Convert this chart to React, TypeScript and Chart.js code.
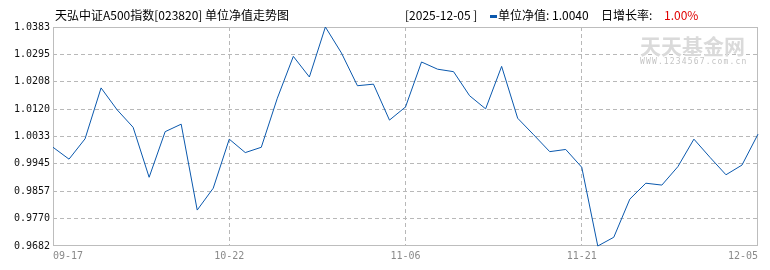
import React, { useEffect, useRef } from "react";
import { Chart, registerables } from "chart.js";

Chart.register(...registerables);

const DATES: string[] = [
  "09-17", "09-19", "09-24", "09-26", "09-30", "10-10", "10-13", "10-15", "10-17", "10-20", "10-21", "10-22",
  "10-23", "10-24", "10-27", "10-28", "10-29", "10-30", "10-31", "11-03", "11-04", "11-05", "11-06",
  "11-07", "11-10", "11-11", "11-12", "11-13", "11-14", "11-17", "11-18", "11-19", "11-20", "11-21",
  "11-22", "11-24", "11-25", "11-26", "11-27", "11-28", "12-01", "12-02", "12-03", "12-04", "12-05",
];

const NAV: number[] = [
  0.9998, 0.9960, 1.0025, 1.0188, 1.0118, 1.0062, 0.9902, 1.0048, 1.0072, 0.9797, 0.9867, 1.0024,
  0.9981, 0.9998, 1.0155, 1.0289, 1.0223, 1.0383, 1.0300, 1.0195, 1.0200, 1.0085, 1.0127,
  1.0271, 1.0248, 1.0240, 1.0163, 1.0121, 1.0257, 1.0091, 1.0038, 0.9984, 0.9991, 0.9934,
  0.9682, 0.9710, 0.9832, 0.9883, 0.9877, 0.9936, 1.0024, 0.9966, 0.9910, 0.9941, 1.0040,
];

const Y_TICKS: number[] = [0.9682, 0.9770, 0.9857, 0.9945, 1.0033, 1.0120, 1.0208, 1.0295, 1.0383];
const X_TICK_LABELS: string[] = ["09-17", "10-22", "11-06", "11-21", "12-05"];

const TITLE = "天弘中证A500指数[023820] 单位净值走势图";
const LAST_DATE = "[2025-12-05 ]";
const LAST_NAV_LABEL = "单位净值: ";
const LAST_NAV = "1.0040";
const GROWTH_LABEL = "日增长率:";
const GROWTH = "1.00%";

const LINE_COLOR = "#0a58ad";
const GRID_COLOR = "#b8b8b8";

const framePlugin = {
  id: "frame",
  beforeDatasetsDraw(chart: any) {
    const { ctx, chartArea } = chart;
    ctx.save();
    ctx.strokeStyle = "#bdbdbd";
    ctx.lineWidth = 1;
    ctx.setLineDash([]);
    ctx.strokeRect(
      Math.round(chartArea.left) + 0.5,
      Math.round(chartArea.top) + 0.5,
      Math.round(chartArea.right - chartArea.left) - 1,
      Math.round(chartArea.bottom - chartArea.top) - 1
    );
    ctx.restore();
  },
};

export default function App() {
  const ref = useRef<HTMLCanvasElement | null>(null);

  useEffect(() => {
    if (!ref.current) return;
    const chart = new Chart(ref.current, {
      type: "line",
      data: {
        labels: DATES,
        datasets: [
          {
            data: NAV,
            borderColor: LINE_COLOR,
            borderWidth: 1,
            pointRadius: 0,
            tension: 0,
            fill: false,
            clip: false as any,
          },
        ],
      },
      plugins: [framePlugin],
      options: {
        animation: false,
        responsive: false,
        maintainAspectRatio: false,
        devicePixelRatio: 1,
        layout: { padding: { top: 27, right: 12, left: 0, bottom: 0 } },
        plugins: {
          legend: { display: false },
          tooltip: { enabled: false },
          title: { display: false },
        },
        scales: {
          x: {
            type: "category",
            offset: false,
            afterBuildTicks: (scale: any) => {
              scale.ticks = DATES.map((d, i) => ({ value: i })).filter((t) =>
                X_TICK_LABELS.includes(DATES[t.value])
              );
            },
            afterFit: (scale: any) => {
              scale.height = 24;
            },
            grid: {
              drawTicks: false,
              color: (c: any) =>
                c.index === 0 || c.index === X_TICK_LABELS.length - 1 ? "rgba(0,0,0,0)" : GRID_COLOR,
              lineWidth: 1,
            },
            border: { display: false, dash: [4, 3] },
            ticks: {
              autoSkip: false,
              maxRotation: 0,
              align: "inner",
              padding: 4,
              color: "#8a8a8a",
              font: { family: "DejaVu Sans Mono", size: 10 },
              callback: function (this: any, v: any) {
                return DATES[v];
              },
            },
          },
          y: {
            type: "linear",
            min: Y_TICKS[0],
            max: Y_TICKS[Y_TICKS.length - 1],
            afterBuildTicks: (scale: any) => {
              scale.ticks = Y_TICKS.map((v) => ({ value: v }));
            },
            afterFit: (scale: any) => {
              scale.width = 53;
            },
            grid: {
              drawTicks: false,
              color: (c: any) =>
                c.index === 0 || c.index === Y_TICKS.length - 1 ? "rgba(0,0,0,0)" : GRID_COLOR,
              lineWidth: 1,
            },
            border: { display: false, dash: [4, 3] },
            ticks: {
              padding: 3,
              color: "#111",
              font: { family: "DejaVu Sans Mono", size: 10 },
              callback: (v: any) => Number(v).toFixed(4),
            },
          },
        },
      } as any,
    });
    return () => chart.destroy();
  }, []);

  const txt: React.CSSProperties = {
    position: "absolute",
    top: 6,
    fontFamily: "'Noto Sans CJK SC', sans-serif",
    fontSize: 12,
    lineHeight: "18px",
    color: "#000",
    whiteSpace: "nowrap",
  };

  return (
    <div
      style={{
        position: "fixed",
        left: 0,
        top: 0,
        width: 770,
        height: 270,
        background: "#fff",
        overflow: "hidden",
      }}
    >
      <canvas ref={ref} width={770} height={270} style={{ position: "absolute", left: 0, top: 0 }} />
      <div style={{ ...txt, left: 55 }}>{TITLE}</div>
      <div style={{ ...txt, left: 405 }}>{LAST_DATE}</div>
      <div
        style={{
          position: "absolute",
          left: 490,
          top: 15,
          width: 7,
          height: 3,
          background: LINE_COLOR,
        }}
      />
      <div style={{ ...txt, left: 498 }}>
        {LAST_NAV_LABEL}
        {LAST_NAV}
      </div>
      <div style={{ ...txt, left: 601 }}>{GROWTH_LABEL}</div>
      <div style={{ ...txt, left: 664, color: "#e00000" }}>{GROWTH}</div>
      <div
        style={{
          position: "absolute",
          left: 640,
          top: 33,
          fontFamily: "'Noto Sans CJK SC', sans-serif",
          fontWeight: 700,
          fontSize: 21,
          lineHeight: "24px",
          color: "#dadada",
          whiteSpace: "nowrap",
        }}
      >
        天天基金网
      </div>
      <div
        style={{
          position: "absolute",
          left: 640,
          top: 57,
          fontFamily: "'DejaVu Sans Mono', monospace",
          fontSize: 8,
          lineHeight: "10px",
          letterSpacing: "1.15px",
          color: "#c4c4c4",
          whiteSpace: "nowrap",
        }}
      >
        WWW.1234567.com.cn
      </div>
    </div>
  );
}
